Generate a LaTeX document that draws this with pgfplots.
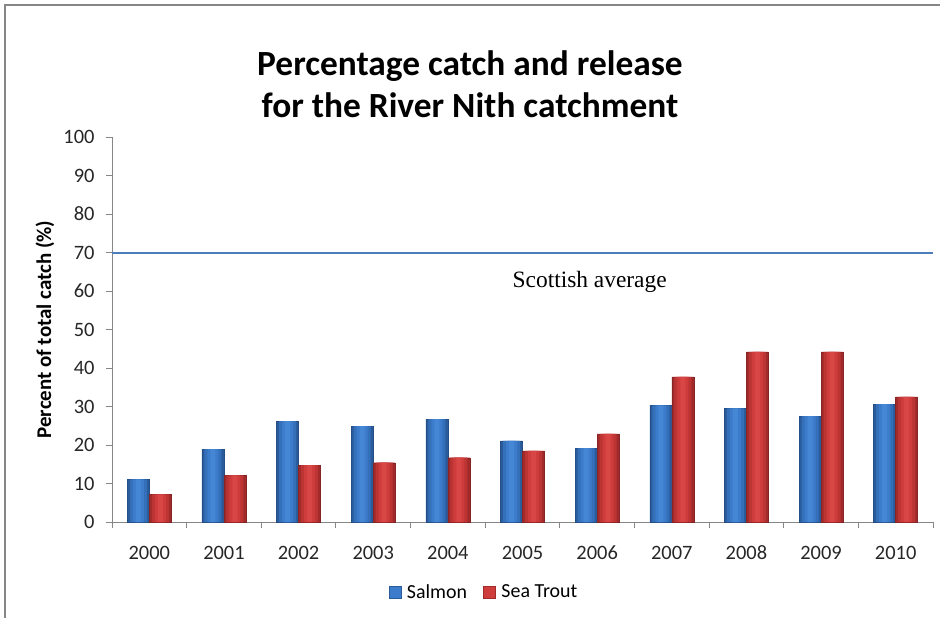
\documentclass[border=0pt]{standalone}
\usepackage{fontspec}
\setmainfont{Carlito}
\newfontfamily\seriffont{Liberation Serif}
\usepackage{pgfplots}
\pgfplotsset{compat=1.18}
\usepackage{pgfplotstable}
\definecolor{blueA}{HTML}{2A5C9C}
\definecolor{blueB}{HTML}{3470BA}
\definecolor{blueC}{HTML}{3C7CCB}
\definecolor{blueM}{HTML}{4586D5}
\definecolor{redA}{HTML}{A12A2A}
\definecolor{redB}{HTML}{BC3434}
\definecolor{redC}{HTML}{CE3C3C}
\definecolor{redM}{HTML}{D84646}
\definecolor{axgray}{HTML}{868686}
\definecolor{lineblue}{HTML}{4A7EBB}
\pgfplotstableread{
x salmon trout
0 11.1 7.2
1 18.9 12.1
2 26.2 14.8
3 24.9 15.4
4 26.7 16.7
5 21.1 18.5
6 19.2 22.9
7 30.3 37.7
8 29.5 44.2
9 27.5 44.2
10 30.6 32.5
}\datatable
\begin{document}
\begin{tikzpicture}
\useasboundingbox (0bp,0bp) rectangle (940bp,-618bp);
\draw[axgray, line width=2bp] (5bp,-618bp) -- (5bp,-5bp) -- (940bp,-5bp);
\begin{axis}[
  at={(112bp,-522bp)}, anchor=south west,
  scale only axis, width=821bp, height=385bp,
  xmin=-0.5, xmax=10.5, ymin=0, ymax=100,
  axis x line*=bottom, axis y line*=left,
  axis line style={axgray, line width=1bp},
  ytick={0,10,...,100},
  xtick={-0.5,0.5,...,10.5}, xticklabels={},
  extra x ticks={0,1,2,3,4,5,6,7,8,9,10},
  extra x tick labels={2000,2001,2002,2003,2004,2005,2006,2007,2008,2009,2010},
  extra x tick style={major tick length=0pt},
  tick align=outside,
  major tick length=6bp,
  tick style={axgray, line width=1bp},
  ticklabel style={font=\fontsize{20.5}{24}\selectfont, text=black!85},
  xticklabel style={text height=13bp},
  xticklabel shift=21bp,
  yticklabel shift=8bp,
  /pgf/number format/assume math mode=true,
  ylabel={Percent of total catch (\%)},
  ylabel style={at={(axis description cs:-0.0816,0.5)}, anchor=center, font=\fontsize{21}{25}\selectfont\bfseries},
  title={Percentage catch and release\\for the River Nith catchment},
  title style={at={(axis description cs:0.436,1)}, anchor=south, yshift=10bp, align=center, font=\fontsize{35.5}{42}\selectfont\bfseries},
  legend style={at={(axis description cs:0.453,-0.182)}, anchor=center, draw=none, fill=none,
    legend columns=2, font=\fontsize{20}{24}\selectfont,
    /tikz/every even column/.append style={column sep=14bp}},
  legend image code/.code={\path[#1] (0bp,-6bp) rectangle (12bp,6bp); \path (16bp,0bp);},
  every axis plot/.append style={forget plot},
]
\addplot[lineblue, line width=2bp] coordinates {(-0.5,70) (10.5,70)};
% Salmon (layered for a bevelled look)
\addplot[ybar, bar width=22bp, bar shift=-11bp, draw=blueA!85!black, line width=0.4bp, fill=blueA] table[x=x,y=salmon]{\datatable};
\addplot[ybar, bar width=17bp, bar shift=-11bp, draw=none, fill=blueB] table[x=x,y=salmon]{\datatable};
\addplot[ybar, bar width=11bp, bar shift=-11bp, draw=none, fill=blueC] table[x=x,y=salmon]{\datatable};
\addplot[ybar, bar width=5bp, bar shift=-11bp, draw=none, fill=blueM] table[x=x,y=salmon]{\datatable};
% Sea Trout
\addplot[ybar, bar width=22bp, bar shift=11bp, draw=redA!85!black, line width=0.4bp, fill=redA] table[x=x,y=trout]{\datatable};
\addplot[ybar, bar width=17bp, bar shift=11bp, draw=none, fill=redB] table[x=x,y=trout]{\datatable};
\addplot[ybar, bar width=11bp, bar shift=11bp, draw=none, fill=redC] table[x=x,y=trout]{\datatable};
\addplot[ybar, bar width=5bp, bar shift=11bp, draw=none, fill=redM] table[x=x,y=trout]{\datatable};
\addlegendimage{fill=blueC, draw=blueA}
\addlegendentry{Salmon}
\addlegendimage{fill=redC, draw=redA}
\addlegendentry{Sea Trout}
\node[anchor=base, font=\seriffont\fontsize{23.5}{28}\selectfont] at (axis cs:5.9,60.8) {Scottish average};
\end{axis}
\end{tikzpicture}
\end{document}
